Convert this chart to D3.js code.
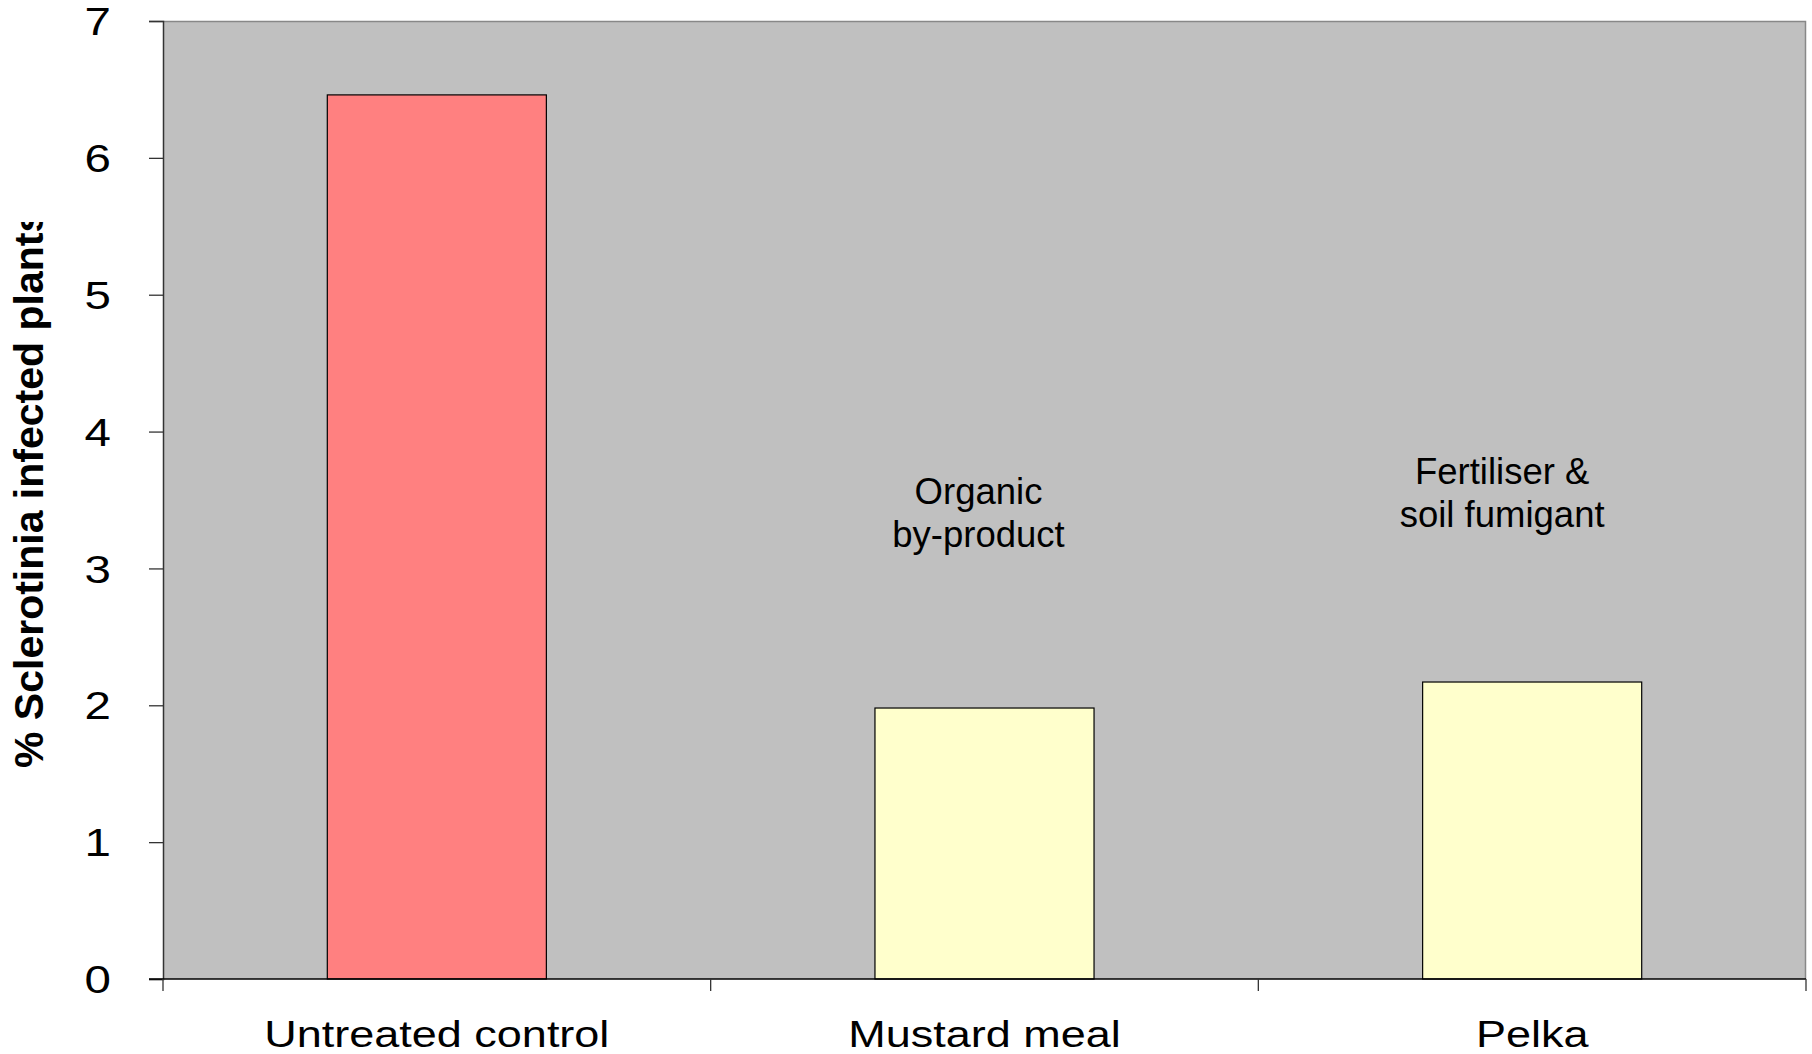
<!DOCTYPE html>
<html>
<head>
<meta charset="utf-8">
<script src="https://cdn.jsdelivr.net/npm/d3@7"></script>
<style>
  html, body { margin: 0; padding: 0; background: #ffffff; }
  svg { display: block; }
  text { font-family: "Liberation Sans", Arial, sans-serif; fill: #000; }
</style>
</head>
<body>
<svg id="chart" width="1812" height="1054"></svg>
<script>
// Treatments and the share of plants infected with Sclerotinia
const categories = ["Untreated control", "Mustard meal", "Pelka"];
const infected = [6.46, 1.98, 2.17];
const barColors = ["#FF8080", "#FFFFCC", "#FFFFCC"];
const yTicks = [0, 1, 2, 3, 4, 5, 6, 7];
const notes = [
  { category: "Mustard meal", lines: ["Organic", "by-product"] },
  { category: "Pelka", lines: ["Fertiliser &", "soil fumigant"] }
];
const yTitle = "% Sclerotinia infected plants";

const W = 1812, H = 1054;
const plot = { left: 163, right: 1806, top: 21, bottom: 979 };
const svg = d3.select("#chart");

const x = d3.scaleBand()
  .domain(categories)
  .range([plot.left, plot.right])
  .paddingInner(0.6)
  .paddingOuter(0.3);

// Category boundaries (no padding) for the x tick marks
const xCells = d3.scaleBand().domain(categories).range([plot.left, plot.right]).padding(0);

const y = d3.scaleLinear().domain([0, 7]).range([plot.bottom, plot.top]);

// Plot background
svg.append("rect")
  .attr("x", plot.left).attr("y", plot.top)
  .attr("width", plot.right - plot.left).attr("height", plot.bottom - plot.top)
  .attr("fill", "#C0C0C0");

// Top and right frame edges
svg.append("path")
  .attr("d", `M${plot.left},${plot.top + 0.5}H${plot.right - 0.5}V${plot.bottom}`)
  .attr("fill", "none").attr("stroke", "#888888").attr("stroke-width", 1.5);

// Bars
svg.append("g").selectAll("rect")
  .data(categories)
  .join("rect")
  .attr("x", d => x(d))
  .attr("y", (d, i) => y(infected[i]))
  .attr("width", x.bandwidth())
  .attr("height", (d, i) => y(0) - y(infected[i]))
  .attr("fill", (d, i) => barColors[i])
  .attr("stroke", "#000").attr("stroke-width", 1.2);

// Y axis
const yAxis = svg.append("g")
  .attr("transform", `translate(${plot.left},0)`)
  .call(d3.axisLeft(y).tickValues(yTicks).tickSize(14).tickFormat(d3.format("d")));
yAxis.select(".domain").attr("stroke", "#333").attr("stroke-width", 1.5);
yAxis.selectAll(".tick line").attr("stroke", "#333").attr("stroke-width", 1.3);
yAxis.selectAll(".tick text")
  .attr("x", null).attr("dy", "0.36em")
  .attr("text-anchor", "end")
  .attr("transform", "translate(-52,0) scale(1.25,1)")
  .style("font-size", "38px")
  .style("font-family", "'Liberation Sans', Arial, sans-serif")
  .attr("fill", "#000");

// X axis: baseline plus tick marks at the category boundaries
const xAxis = svg.append("g").attr("transform", `translate(0,${plot.bottom})`);
xAxis.append("line")
  .attr("x1", plot.left - 14).attr("x2", plot.right)
  .attr("stroke", "#000").attr("stroke-width", 1.5);
const bounds = categories.map(c => xCells(c)).concat([plot.right]);
xAxis.selectAll("line.tk")
  .data(bounds)
  .join("line").attr("class", "tk")
  .attr("x1", d => d).attr("x2", d => d)
  .attr("y1", 0).attr("y2", 12)
  .attr("stroke", "#333").attr("stroke-width", 1.3);

// Category labels
svg.append("g").selectAll("text")
  .data(categories)
  .join("text")
  .attr("transform", d => `translate(${x(d) + x.bandwidth() / 2},1047) scale(1.25,1)`)
  .attr("text-anchor", "middle")
  .style("font-size", "36px")
  .text(d => d);

// Treatment notes above the bars
const noteShift = { "Mustard meal": -6, "Pelka": -30 };
const noteBase = { "Mustard meal": 504, "Pelka": 484 };
notes.forEach(n => {
  const cx = x(n.category) + x.bandwidth() / 2 + noteShift[n.category];
  const t = svg.append("text")
    .attr("x", cx).attr("y", noteBase[n.category])
    .attr("text-anchor", "middle")
    .style("font-size", "36.5px");
  n.lines.forEach((line, i) => {
    t.append("tspan").attr("x", cx).attr("dy", i === 0 ? 0 : 43).text(line);
  });
});

// Y axis title, clipped at its upper end
svg.append("clipPath").attr("id", "titleClip")
  .append("rect").attr("x", 0).attr("y", 222).attr("width", 80).attr("height", 800);
svg.append("g").attr("clip-path", "url(#titleClip)")
  .append("text")
  .attr("transform", "translate(43,768) rotate(-90)")
  .attr("text-anchor", "start")
  .style("font-size", "41px")
  .style("font-weight", "bold")
  .text(yTitle);
</script>
</body>
</html>
